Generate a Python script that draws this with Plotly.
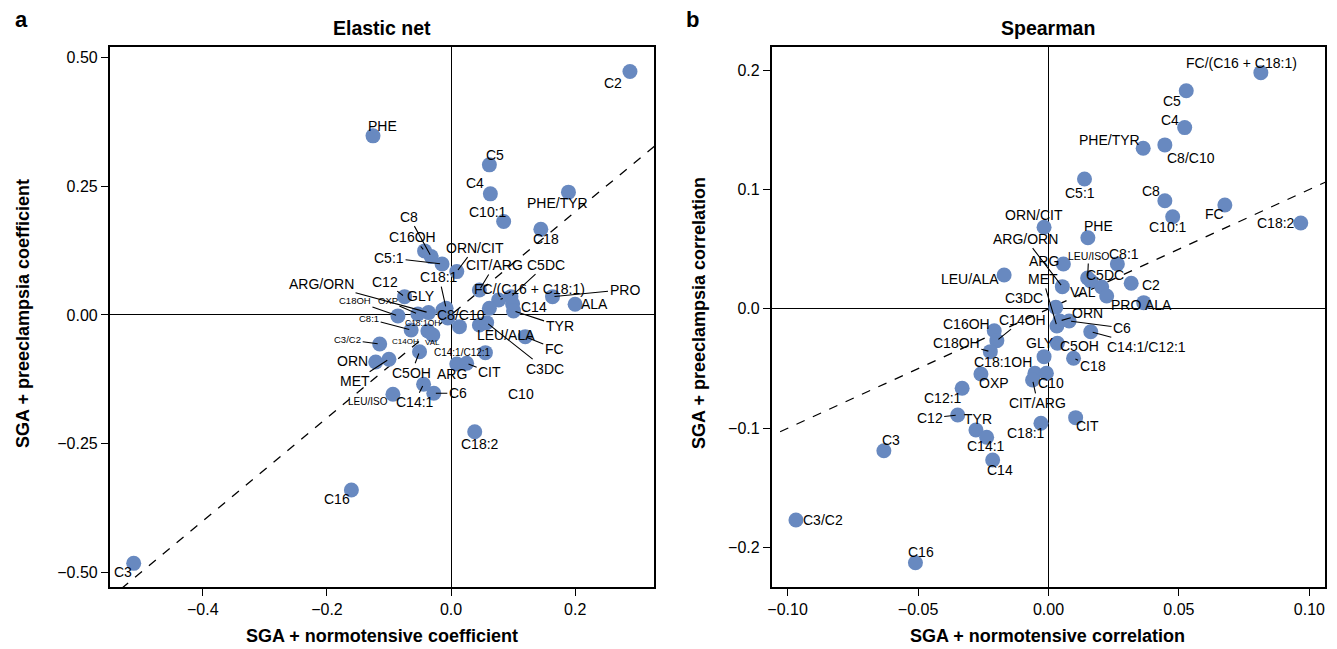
import plotly.graph_objects as go

W, H = 1337, 649

# ---------------- data: panel a (Elastic net) ----------------
a_names = ["C2", "PHE", "C5", "C4", "PHE/TYR", "C10:1", "C18", "C8", "C16OH", "C5:1",
           "ORN/CIT", "CIT/ARG", "C5DC", "C18:1", "ARG/ORN", "FC/(C16 + C18:1)", "PRO", "C12",
           "GLY", "ALA", "C18OH", "OXP", "C8/C10", "C14", "C18:1OH", "C8:1", "TYR", "LEU/ALA",
           "C3/C2", "C14OH", "VAL", "C14:1/C12:1", "FC", "ORN", "C5OH", "ARG", "CIT", "C3DC",
           "MET", "C6", "C10", "LEU/ISO", "C14:1", "C18:2", "C16", "C3", "C12:1"]
a_norm = [0.2882, -0.1258, 0.0617, 0.0633, 0.1891, 0.0847, 0.1446, -0.0321, -0.0427, -0.0145,
          0.0092, 0.0456, 0.0964, -0.0080, -0.0363, 0.0766, 0.1634, -0.0749,
          -0.0133, 0.1998, -0.0856, -0.0535, -0.0085, 0.0991, -0.0053, -0.0643, 0.1007, 0.0456,
          -0.1150, -0.0374, -0.0294, 0.0135, 0.1195, -0.1214, -0.0508, 0.0092, 0.0251, 0.0573,
          -0.1001, -0.0278, 0.0553, -0.0937, -0.0443, 0.0381, -0.1606, -0.5113, 0.0617]
a_pre = [0.4724, 0.3476, 0.2913, 0.2350, 0.2383, 0.1812, 0.1664, 0.1132, 0.1243, 0.0990,
         0.0841, 0.0485, 0.0355, 0.0130, 0.0045, 0.0291, 0.0355, 0.0355,
         0.0097, 0.0208, -0.0019, 0.0019, 0.0019, 0.0214, -0.0058, -0.0291, 0.0078, -0.0194,
         -0.0563, -0.0311, -0.0388, -0.0227, -0.0421, -0.0913, -0.0713, -0.0951, -0.0938, -0.0150,
         -0.0860, -0.1520, -0.0732, -0.1540, -0.1346, -0.2266, -0.3398, -0.4821, 0.0130]

# label placement (pixel offsets of label centre from the point), leader flag, font size
a_dx = [-17, 10, 6, -15, -11, -16, 5, -22, -12, -53,
        18, 15, 35, -7, -107, 31, 72, -20,
        -22, 19, -43, -30, 15, 21, -25, -42, 46, 27,
        -32, -22, 0, 3, 29, -23, -8, -5, 23, 58,
        -34, 24, 36, -25, -9, 5, -14, -11, 0]
a_dy = [11, -10, -10, -11, 11, -10, 10, -40, -14, -6,
        -24, -25, -32, -31, -29, -11, -7, -15,
        -14, 0, -15, -13, 1, 3, 5, -11, 15, 10,
        -4, 11, 8, 26, 12, -1, 21, 10, 9, 46,
        22, 0, 41, 7, 18, 12, 9, 9, 0]
a_line = [0, 0, 0, 0, 0, 0, 0, 1, 1, 1,
          1, 1, 1, 1, 1, 1, 1, 1,
          0, 0, 1, 1, 0, 0, 0, 1, 1, 0,
          1, 0, 1, 1, 1, 0, 1, 0, 1, 1,
          1, 1, 1, 0, 1, 0, 0, 0, 0]
a_fs = [14, 14, 14, 14, 14, 14, 14, 14, 14, 14,
        14, 14, 14, 14, 14, 14, 14, 14,
        14, 14, 9.5, 9.5, 14, 14, 8.5, 9.5, 14, 14,
        9.5, 8, 8, 10, 14, 14, 14, 14, 14, 14,
        14, 14, 14, 10, 14, 14, 14, 14, 14]
a_show = [1] * 46 + [0]

# ---------------- data: panel b (Spearman) ----------------
b_names = ["FC/(C16 + C18:1)", "C5", "C4", "PHE/TYR", "C8/C10", "C5:1", "C8", "FC", "C10:1", "C18:2",
           "ORN/CIT", "PHE", "ARG/ORN", "ARG", "LEU/ISO", "C8:1", "LEU/ALA", "MET", "C5DC", "C2",
           "VAL", "C3DC", "PRO", "ALA", "ORN", "C6", "C16OH", "C14OH", "C18OH", "GLY",
           "C5OH", "C14:1/C12:1", "C18:1OH", "C18", "OXP", "C10", "CIT/ARG", "C12:1", "C12", "TYR",
           "C14:1", "C14", "C18:1", "CIT", "C3", "C3/C2", "C16"]
b_norm = [0.0814, 0.0528, 0.0522, 0.0363, 0.0446, 0.0138, 0.0446, 0.0676, 0.0476, 0.0967,
          -0.0017, 0.0151, 0.0053, 0.0057, 0.0150, 0.0264, -0.0170, 0.0032, 0.0204, 0.0317,
          0.0162, 0.0028, 0.0223, 0.0365, 0.0043, 0.0079, -0.0208, -0.0198, -0.0223, -0.0017,
          0.0034, 0.0162, -0.0052, 0.0096, -0.0259, -0.0008, -0.0061, -0.0331, -0.0348, -0.0278,
          -0.0237, -0.0214, -0.0029, 0.0104, -0.0631, -0.0968, -0.0510]
b_pre = [0.1978, 0.1827, 0.1518, 0.1345, 0.1373, 0.1088, 0.0906, 0.0870, 0.0772, 0.0719,
         0.0683, 0.0596, 0.0186, 0.0376, 0.0259, 0.0376, 0.0284, -0.0143, 0.0183, 0.0214,
         0.0234, 0.0013, 0.0108, 0.0052, -0.0101, -0.0101, -0.0183, -0.0266, -0.0358, -0.0400,
         -0.0288, -0.0191, -0.0539, -0.0414, -0.0545, -0.0539, -0.0595, -0.0665, -0.0889, -0.1014,
         -0.1075, -0.1266, -0.0958, -0.0911, -0.1188, -0.1768, -0.2126]

b_dx = [-19, -14, -15, -34, 26, -4, -14, -10, -5, -25,
        -10, 11, -37, -19, 1, 7, -34, -14, 3, 20,
        -8, -32, 19, 15, 28, 53, -28, 26, -34, -4,
        22, 56, -32, 19, 13, 5, 5, -19, -28, 2,
        -1, 7, -15, 12, 7, 27, 6]
b_dy = [-10, 10, -8, -8, 13, 14, -10, 9, 10, 0,
        -12, -12, -48, -3, -22, -10, 4, -47, -12, 2,
        11, -9, 9, 2, -8, 7, -7, -21, -9, -14,
        3, 15, -11, 8, 9, 10, 23, 10, 3, -11,
        9, 10, 10, 8, -11, 0, -11]
b_line = [0, 0, 0, 0, 0, 0, 0, 0, 0, 0,
          0, 0, 1, 0, 1, 0, 0, 1, 0, 0,
          1, 0, 0, 0, 1, 1, 0, 1, 1, 0,
          0, 1, 0, 1, 0, 0, 1, 0, 1, 0,
          0, 0, 0, 0, 0, 0, 0]
b_fs = [14] * 14 + [10.5] + [14] * 32

# ---------------- layout geometry ----------------
FONT = "Liberation Sans, Arial, Helvetica, sans-serif"
DOT = "#6889C0"

a_xdom = [106 / W, 652 / W]
b_xdom = [770 / W, 1325 / W]
ydom = [1 - 587 / H, 1 - 47 / H]

fig = go.Figure()

# diagonal y = x reference lines
fig.add_trace(go.Scatter(x=[-1, 1], y=[-1, 1], mode="lines", xaxis="x", yaxis="y",
                         line=dict(color="black", width=1.3, dash="dash"), hoverinfo="skip",
                         showlegend=False))
fig.add_trace(go.Scatter(x=[-1, 1], y=[-1, 1], mode="lines", xaxis="x2", yaxis="y2",
                         line=dict(color="black", width=1.3, dash="dash"), hoverinfo="skip",
                         showlegend=False))

fig.add_trace(go.Scatter(x=a_norm, y=a_pre, mode="markers", xaxis="x", yaxis="y",
                         marker=dict(size=15, color=DOT, line=dict(width=0)),
                         text=a_names, showlegend=False, cliponaxis=False))
fig.add_trace(go.Scatter(x=b_norm, y=b_pre, mode="markers", xaxis="x2", yaxis="y2",
                         marker=dict(size=15, color=DOT, line=dict(width=0)),
                         text=b_names, showlegend=False, cliponaxis=False))

annotations = []


def add_labels(names, xs, ys, dxs, dys, lines, fss, xr, yr, shows=None):
    for i, n in enumerate(names):
        if shows is not None and not shows[i]:
            continue
        if lines[i]:
            annotations.append(dict(x=xs[i], y=ys[i], xref=xr, yref=yr, text=n,
                                    showarrow=True, arrowhead=0, arrowwidth=1.1,
                                    arrowcolor="black", ax=dxs[i], ay=dys[i], standoff=2,
                                    font=dict(family=FONT, size=fss[i], color="black")))
        else:
            annotations.append(dict(x=xs[i], y=ys[i], xref=xr, yref=yr, text=n,
                                    showarrow=False, xshift=dxs[i], yshift=-dys[i],
                                    font=dict(family=FONT, size=fss[i], color="black")))


add_labels(a_names, a_norm, a_pre, a_dx, a_dy, a_line, a_fs, "x", "y", a_show)
add_labels(b_names, b_norm, b_pre, b_dx, b_dy, b_line, b_fs, "x2", "y2")


def ptext(txt, px, py, size, bold=True, angle=0):
    t = f"<b>{txt}</b>" if bold else txt
    annotations.append(dict(x=px / W, y=1 - py / H, xref="paper", yref="paper", text=t,
                            showarrow=False, textangle=angle, xanchor="center",
                            yanchor="middle", font=dict(family=FONT, size=size, color="black")))


ptext("a", 18, 19, 22)
ptext("b", 691, 19, 22)
ptext("Elastic net", 379, 28, 19.5)
ptext("Spearman", 1047, 28, 19.5)
ptext("SGA + normotensive coefficient", 379, 636, 18)
ptext("SGA + normotensive correlation", 1047, 636, 18)
ptext("SGA + preeclampsia coefficient", 19, 313, 18, angle=-90)
ptext("SGA + preeclampsia correlation", 697, 313, 18, angle=-90)

axis_common = dict(showgrid=False, zeroline=True, zerolinecolor="black", zerolinewidth=1.2,
                   showline=True, linecolor="black", linewidth=1.6, mirror=True,
                   ticks="outside", ticklen=7, tickwidth=1.2, tickcolor="black",
                   tickfont=dict(family=FONT, size=16, color="black"))

a_xt = [-0.4, -0.2, 0.0, 0.2]
a_yt = [0.5, 0.25, 0.0, -0.25, -0.5]
b_xt = [-0.10, -0.05, 0.0, 0.05, 0.10]
b_yt = [0.2, 0.1, 0.0, -0.1, -0.2]


def fmt(v, d):
    s = f"{abs(v):.{d}f}"
    return ("\u2212" + s) if v < 0 else s


fig.update_layout(
    width=W, height=H,
    margin=dict(l=0, r=0, t=0, b=0),
    paper_bgcolor="white", plot_bgcolor="white",
    showlegend=False,
    xaxis=dict(domain=a_xdom, range=[-0.55, 0.327], anchor="y",
               tickvals=a_xt, ticktext=[fmt(v, 1) for v in a_xt], **axis_common),
    yaxis=dict(domain=ydom, range=[-0.528, 0.520], anchor="x",
               tickvals=a_yt, ticktext=[fmt(v, 2) for v in a_yt], **axis_common),
    xaxis2=dict(domain=b_xdom, range=[-0.1061, 0.106], anchor="y2",
                tickvals=b_xt, ticktext=[fmt(v, 2) for v in b_xt], **axis_common),
    yaxis2=dict(domain=ydom, range=[-0.2329, 0.2193], anchor="x2",
                tickvals=b_yt, ticktext=[fmt(v, 1) for v in b_yt], **axis_common),
    annotations=annotations,
)

fig.write_html("out.html")
